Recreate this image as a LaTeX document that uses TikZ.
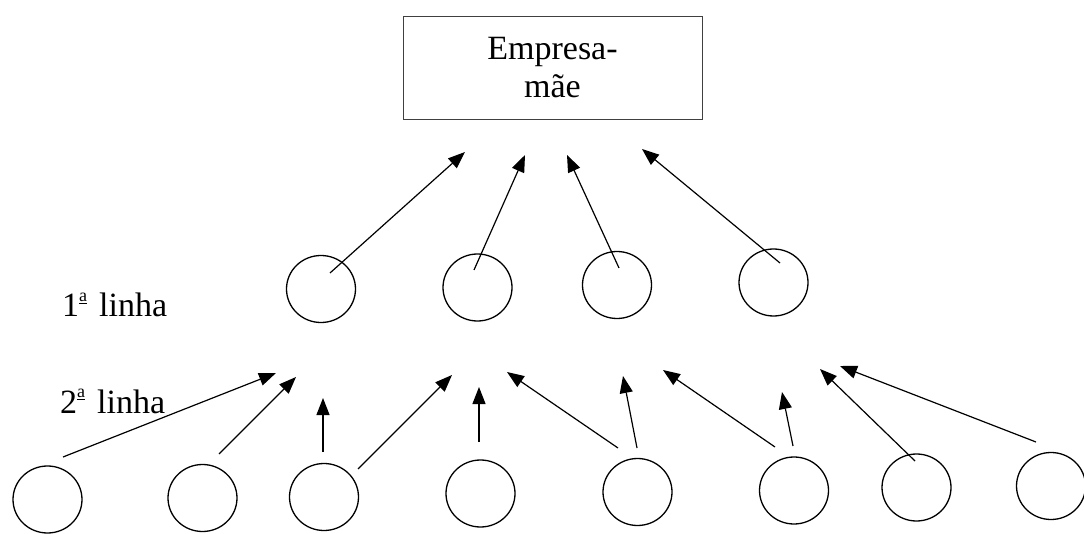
\documentclass[tikz,border=0pt]{standalone}
\usepackage{fontspec}
\setmainfont{Liberation Serif}
\usetikzlibrary{arrows.meta,shapes.geometric,calc}

% raised, underlined ordinal "a"
\newcommand{\ordfem}{\raisebox{15pt}{\fontsize{18}{18}\selectfont\underline{a}}}

\begin{document}
\begin{tikzpicture}[
  x=1pt, y=-1pt,
  bigtext/.style={font=\fontsize{34}{38}\selectfont},
  parent/.style={draw=black!75, line width=0.8pt, minimum width=299pt,
                 minimum height=103pt, inner sep=0pt, align=center, bigtext},
  member/.style={ellipse, draw, line width=1.3pt, minimum width=69pt,
                 minimum height=67pt, inner sep=0pt},
  level/.style={anchor=base west, inner sep=0pt, bigtext},
  link/.style={line width=1.2pt, -{Triangle[length=17pt,width=13pt]}}
]
\useasboundingbox (0,0) rectangle (1084,534);

% parent company
\node[parent] (mae) at (552.5,67.5) {\raisebox{-2pt}{Empresa-}\\\raisebox{-2pt}{mãe}};

% level labels
\node[level] (lin1) at (62,317) {1\ordfem\hspace{12pt}linha};
\node[level] (lin2) at (60,413) {2\ordfem\hspace{12pt}linha};

% first line
\node[member] (r1) at (321,289) {};
\node[member] (r2) at (477.5,287.5) {};
\node[member] (r3) at (617,285) {};
\node[member] (r4) at (773.5,282.5) {};

% second line
\node[member] (b1) at (47.5,499.5) {};
\node[member] (b2) at (202.5,498) {};
\node[member] (b3) at (324,497) {};
\node[member] (b4) at (480.5,493.5) {};
\node[member] (b5) at (637.5,492) {};
\node[member] (b6) at (794,490.5) {};
\node[member] (b7) at (916.5,487.5) {};
\node[member] (b8) at (1051,486) {};

% arrow tips towards the parent company
\coordinate (ta1) at (465,152);
\coordinate (ta2) at (525,155);
\coordinate (ta3) at (567,155);
\coordinate (ta4) at (642,149);

% arrow tips towards the first line
\coordinate (te1) at (276,373);
\coordinate (te2) at (296,377);
\coordinate (te3) at (323,398);
\coordinate (te4) at (452,375);
\coordinate (te5) at (479,387);
\coordinate (te6) at (507,372);
\coordinate (te7) at (623,376);
\coordinate (te8) at (663,370);
\coordinate (te9) at (782,392);
\coordinate (te10) at (820,369);
\coordinate (te11) at (840,366);

% first line -> parent
\draw[link] ($(r1)+(9,-16)$) -- (ta1);
\draw[link] ($(r2)+(-3.5,-17.5)$) -- (ta2);
\draw[link] ($(r3)+(2,-17)$) -- (ta3);
\draw[link] ($(r4)+(6.5,-19.5)$) -- (ta4);

% second line -> first line
\draw[link] ($(b1)+(15.5,-42.5)$) -- (te1);
\draw[link] ($(b2)+(16.5,-44)$) -- (te2);
\draw[link] ($(b3)+(-1,-45)$) -- (te3);
\draw[link] ($(b3)+(34,-28)$) -- (te4);
\draw[link] ($(b4)+(-1.5,-51.5)$) -- (te5);
\draw[link] ($(b5)+(-19.5,-44)$) -- (te6);
\draw[link] ($(b5)+(-0.5,-44)$) -- (te7);
\draw[link] ($(b6)+(-19,-43.5)$) -- (te8);
\draw[link] ($(b6)+(-1,-44.5)$) -- (te9);
\draw[link] ($(b7)+(-1.5,-26.5)$) -- (te10);
\draw[link] ($(b8)+(-15,-44)$) -- (te11);
\end{tikzpicture}
\end{document}
